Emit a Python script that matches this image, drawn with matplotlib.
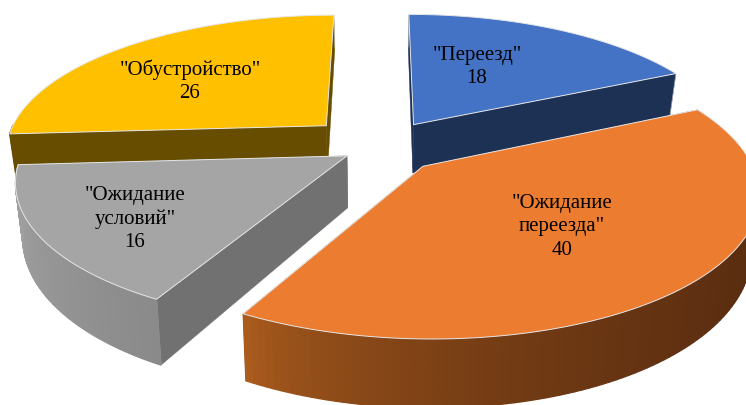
#!/usr/bin/env python
import numpy as np
import matplotlib
matplotlib.use("Agg")
import matplotlib.pyplot as plt
from matplotlib.patches import Polygon

# slices, clockwise from 12 o'clock
categories = ['"Переезд"', '"Ожидание\nпереезда"', '"Ожидание\nусловий"', '"Обустройство"']
values = [18, 40, 16, 26]

top_colors = ["#4472C4", "#EC7C30", "#A5A5A5", "#FFC000"]
face_colors = ["#1D3155", "#8A4A1C", "#717171", "#664D00"]
# outer wall colour at its left and right end
wall_colors = [("#1D3155", "#1D3155"), ("#B5621F", "#5A2D10"),
               ("#A0A0A0", "#8A8A8A"), ("#664D00", "#664D00")]
explode = [0.20, 0.19, 0.12, 0.235]
label_xy = [(477, 67), (562, 227), (135, 219), (190, 81)]
draw_order = [3, 0, 2, 1]

# projection of the pie plane to pixels
X0, Y0 = 380, 148
RX, RY = 322, 136
K = 0.17
DEPTH, KD = 51, 0.31
SHRINK = 0.98


def project(px, py):
    s = 1.0 / (1.0 + K * py)
    return X0 + RX * px * s, Y0 - RY * py * s


def drop(px, py):
    # same plane point on the underside of the pie
    x, y = project(px, py)
    return X0 + (x - X0) * SHRINK, y + DEPTH * (1 - KD * py)


def mix(c1, c2, f):
    a = np.array(matplotlib.colors.to_rgb(c1))
    b = np.array(matplotlib.colors.to_rgb(c2))
    return a + (b - a) * f


def draw_slice(ax, start, end, off, top, face, wall):
    mid = np.radians((start + end) / 2.0)
    cx, cy = off * np.cos(mid), off * np.sin(mid)
    t = np.radians(np.linspace(start, end, 120))
    px, py = cx + np.cos(t), cy + np.sin(t)

    # cut faces first, they end up under the top and the wall
    for i in (0, -1):
        pts = [project(cx, cy), project(px[i], py[i]), drop(px[i], py[i]), drop(cx, cy)]
        ax.add_patch(Polygon(pts, closed=True, fc=face, ec=face, lw=0.3))
        ax.plot(*zip(pts[1], pts[2]), color="#D8D8D8", lw=0.6, alpha=0.6, zorder=1)

    # outer wall, only the part turned to the viewer
    front = np.sin(t) < 0
    xs = np.array([project(a, b)[0] for a, b in zip(px, py)])
    lo, hi = xs.min(), xs.max()
    for i in range(len(t) - 1):
        if not (front[i] or front[i + 1]):
            continue
        pts = [project(px[i], py[i]), project(px[i + 1], py[i + 1]),
               drop(px[i + 1], py[i + 1]), drop(px[i], py[i])]
        f = ((xs[i] - lo) / max(hi - lo, 1.0)) ** 0.5
        c = mix(wall[0], wall[1], f)
        ax.add_patch(Polygon(pts, closed=True, fc=c, ec=c, lw=0.9))

    outline = [project(cx, cy)] + [project(a, b) for a, b in zip(px, py)]
    ax.add_patch(Polygon(outline, closed=True, fc=top, ec="#E6E6E6", lw=0.7, joinstyle="round"))


fig = plt.figure(figsize=(7.46, 4.06), dpi=100)
ax = fig.add_axes([0, 0, 1, 1])
ax.set_xlim(0, 746)
ax.set_ylim(406, 0)
ax.axis("off")

edges = 90 - 360.0 * np.cumsum([0] + values) / float(sum(values))
for i in draw_order:
    draw_slice(ax, edges[i], edges[i + 1], explode[i], top_colors[i], face_colors[i], wall_colors[i])

for name, v, (x, y) in zip(categories, values, label_xy):
    ax.text(x, y, "%s\n%d" % (name, v), ha="center", va="center", family="Liberation Serif",
            fontsize=15, color="black", linespacing=1.3)

fig.savefig("out.png", dpi=100)
